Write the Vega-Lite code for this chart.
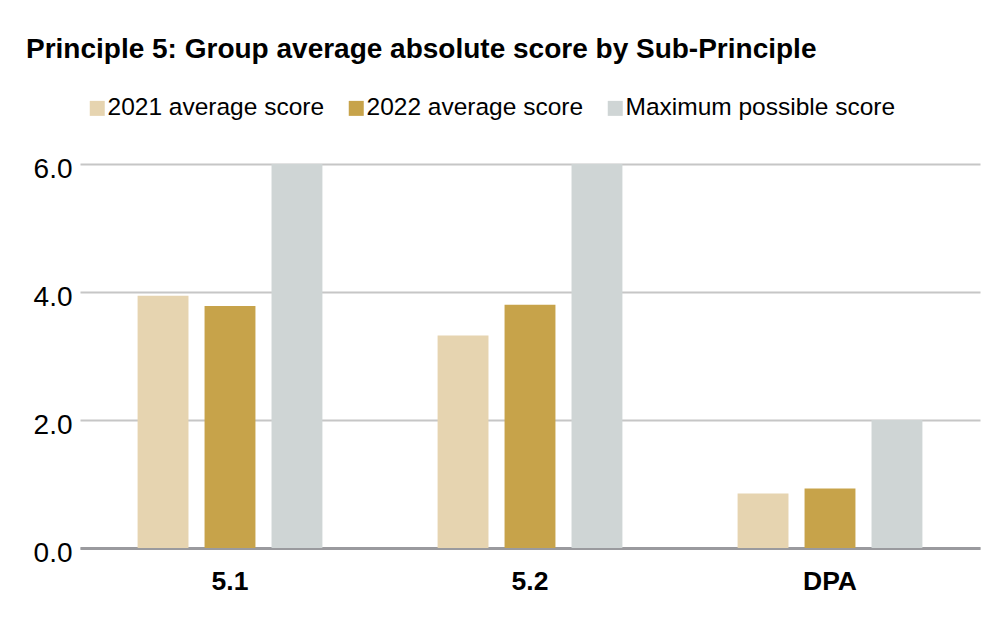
{
  "$schema": "https://vega.github.io/schema/vega-lite/v6.json",
  "autosize": {"type": "none"},
  "width": 900,
  "height": 384,
  "padding": {"left": 80, "top": 164, "right": 18, "bottom": 83},
  "background": "white",
  "title": {
    "text": "Principle 5: Group average absolute score by Sub-Principle",
    "anchor": "start",
    "frame": "group",
    "dx": -54,
    "offset": 27,
    "font": "Liberation Sans",
    "fontSize": 28,
    "fontWeight": "bold",
    "color": "#000000"
  },
  "data": {
    "values": [
      {"sub": "5.1", "series": "2021 average score", "score": 3.94},
      {"sub": "5.1", "series": "2022 average score", "score": 3.78},
      {"sub": "5.1", "series": "Maximum possible score", "score": 6},
      {"sub": "5.2", "series": "2021 average score", "score": 3.32},
      {"sub": "5.2", "series": "2022 average score", "score": 3.8},
      {"sub": "5.2", "series": "Maximum possible score", "score": 6},
      {"sub": "DPA", "series": "2021 average score", "score": 0.85},
      {"sub": "DPA", "series": "2022 average score", "score": 0.93},
      {"sub": "DPA", "series": "Maximum possible score", "score": 2}
    ]
  },
  "mark": {"type": "bar"},
  "encoding": {
    "x": {
      "field": "sub",
      "type": "nominal",
      "sort": ["5.1", "5.2", "DPA"],
      "scale": {"paddingInner": 0, "paddingOuter": 0},
      "axis": {
        "title": null,
        "labelAngle": 0,
        "labelFont": "Liberation Sans",
        "labelFontSize": 26.5,
        "labelFontWeight": "bold",
        "labelColor": "#000000",
        "labelPadding": 20,
        "ticks": false,
        "grid": false,
        "domain": true,
        "domainColor": "#9a9a9e",
        "domainWidth": 3
      }
    },
    "xOffset": {
      "field": "series",
      "type": "nominal",
      "sort": ["2021 average score", "2022 average score", "Maximum possible score"],
      "scale": {"paddingInner": 0.24, "paddingOuter": 0.86}
    },
    "y": {
      "field": "score",
      "type": "quantitative",
      "scale": {"domain": [0, 6], "nice": false},
      "axis": {
        "title": null,
        "values": [0, 2, 4, 6],
        "format": ".1f",
        "labelFont": "Liberation Sans",
        "labelFontSize": 28,
        "labelColor": "#000000",
        "labelPadding": 8,
        "labelOffset": 5,
        "labelFlush": false,
        "ticks": false,
        "domain": false,
        "grid": true,
        "gridColor": "#c6c6c6",
        "gridWidth": 2
      }
    },
    "color": {
      "field": "series",
      "type": "nominal",
      "sort": ["2021 average score", "2022 average score", "Maximum possible score"],
      "scale": {
        "domain": ["2021 average score", "2022 average score", "Maximum possible score"],
        "range": ["#e6d4b0", "#c7a34a", "#cfd5d5"]
      },
      "legend": {
        "title": null,
        "orient": "top",
        "direction": "horizontal",
        "offset": 39,
        "padding": 5,
        "symbolType": "square",
        "symbolSize": 225,
        "symbolStrokeWidth": 0,
        "labelFont": "Liberation Sans",
        "labelFontSize": 24.5,
        "labelColor": "#000000",
        "labelOffset": -2,
        "columnPadding": 19,
        "labelLimit": 400
      }
    }
  },
  "config": {
    "view": {"stroke": null}
  }
}
